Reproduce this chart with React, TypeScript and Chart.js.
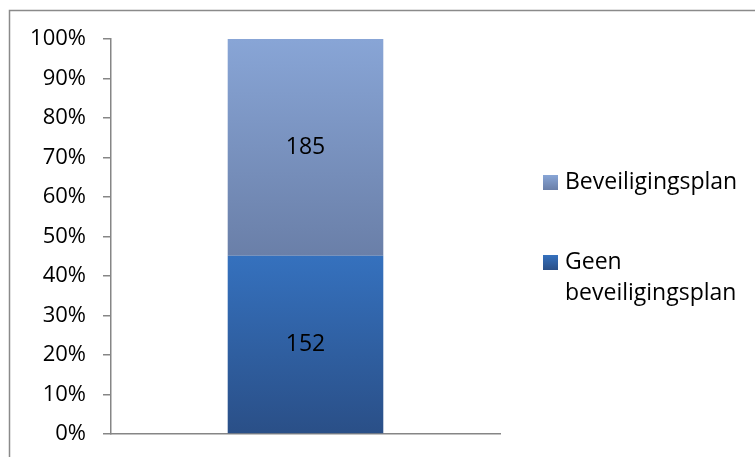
import React, { useEffect, useRef } from "react";
import { Chart, registerables } from "chart.js";

Chart.register(...registerables);

const categories = [""];
const seriesNames = ["Geen beveiligingsplan", "Beveiligingsplan"];
const geenValues = [152];
const planValues = [185];
const tickStep = 10;

const FONT = "'Open Sans', 'Noto Sans', sans-serif";

const gradients = [
  ["#3571BE", "#2A4F87"],
  ["#88A5D6", "#6A7FA8"],
];

export default function App() {
  const ref = useRef<HTMLCanvasElement | null>(null);

  useEffect(() => {
    if (!ref.current) return;
    const totals = geenValues.map((v, i) => v + planValues[i]);
    const rawSeries = [geenValues, planValues];
    const pct = rawSeries.map((arr) => arr.map((v, i) => (v / totals[i]) * 100));

    const makeBg = (dsIndex: number) => (context: any) => {
      const chart = context.chart;
      const { chartArea } = chart;
      if (!chartArea) return gradients[dsIndex][0];
      const y = chart.scales.y;
      let lo = 0;
      for (let k = 0; k < dsIndex; k++) lo += pct[k][context.dataIndex ?? 0];
      const hi = lo + pct[dsIndex][context.dataIndex ?? 0];
      const g = chart.ctx.createLinearGradient(0, y.getPixelForValue(hi), 0, y.getPixelForValue(lo));
      g.addColorStop(0, gradients[dsIndex][0]);
      g.addColorStop(1, gradients[dsIndex][1]);
      return g;
    };

    const framePlugin = {
      id: "frame",
      beforeDraw(chart: any) {
        const c = chart.ctx;
        c.save();
        c.strokeStyle = "#8a8a8a";
        c.lineWidth = 1.5;
        c.strokeRect(9.5, 10.5, 900, 600);
        c.restore();
      },
    };

    const labelPlugin = {
      id: "vals",
      afterDatasetsDraw(chart: any) {
        const c = chart.ctx;
        c.save();
        c.font = `23px ${FONT}`;
        c.fillStyle = "#000";
        c.textAlign = "center";
        c.textBaseline = "middle";
        chart.data.datasets.forEach((ds: any, di: number) => {
          const meta = chart.getDatasetMeta(di);
          meta.data.forEach((el: any, i: number) => {
            const mid = (el.y + el.base) / 2;
            c.fillText(String(rawSeries[di][i]), el.x, mid);
          });
        });
        c.restore();
      },
    };

    const legendPlugin = {
      id: "customLegend",
      afterDraw(chart: any) {
        const c = chart.ctx;
        c.save();
        c.font = `23px ${FONT}`;
        c.fillStyle = "#000";
        c.textBaseline = "middle";
        c.textAlign = "left";
        const items = [
          { di: 1, lines: ["Beveiligingsplan"], y: 182 },
          { di: 0, lines: ["Geen", "beveiligingsplan"], y: 262 },
        ];
        items.forEach((it) => {
          const g = c.createLinearGradient(0, it.y - 7, 0, it.y + 8);
          g.addColorStop(0, gradients[it.di][0]);
          g.addColorStop(1, gradients[it.di][1]);
          c.fillStyle = g;
          c.fillRect(543, it.y - 7, 15, 15);
          c.fillStyle = "#000";
          it.lines.forEach((t, li) => c.fillText(t, 565, it.y + li * 31));
        });
        c.restore();
      },
    };

    const chart = new Chart(ref.current, {
      type: "bar",
      data: {
        labels: categories,
        datasets: [
          {
            label: seriesNames[0],
            data: pct[0],
            backgroundColor: makeBg(0),
            categoryPercentage: 0.4,
            barPercentage: 1,
          },
          {
            label: seriesNames[1],
            data: pct[1],
            backgroundColor: makeBg(1),
            categoryPercentage: 0.4,
            barPercentage: 1,
          },
        ],
      },
      options: {
        responsive: false,
        animation: false,
        devicePixelRatio: 1,
        layout: { padding: { top: 39, right: 255, bottom: 23, left: 0 } },
        plugins: { legend: { display: false }, tooltip: { enabled: false } },
        scales: {
          x: {
            stacked: true,
            grid: { display: false },
            border: { display: true, color: "#868686", width: 1.5 },
            ticks: { display: false },
            afterFit: (s: any) => {
              s.height = 0;
              s.paddingLeft = 0;
              s.paddingRight = 0;
            },
          },
          y: {
            stacked: true,
            min: 0,
            max: 100,
            grid: {
              drawOnChartArea: false,
              drawTicks: true,
              tickLength: 8,
              color: "#868686",
              lineWidth: 1.5,
            },
            border: { display: true, color: "#868686", width: 1.5 },
            ticks: {
              stepSize: tickStep,
              padding: 17,
              color: "#000",
              font: { family: FONT, size: 22 },
              callback: (v: any) => `${v}%`,
            },
            afterFit: (s: any) => {
              s.width = 111;
              s.paddingTop = 0;
              s.paddingBottom = 0;
            },
          },
        },
      },
      plugins: [framePlugin, labelPlugin, legendPlugin],
    });
    return () => chart.destroy();
  }, []);

  return (
    <div style={{ position: "fixed", left: 0, top: 0, width: 755, height: 457, background: "#fff" }}>
      <canvas ref={ref} width={755} height={457} />
    </div>
  );
}
